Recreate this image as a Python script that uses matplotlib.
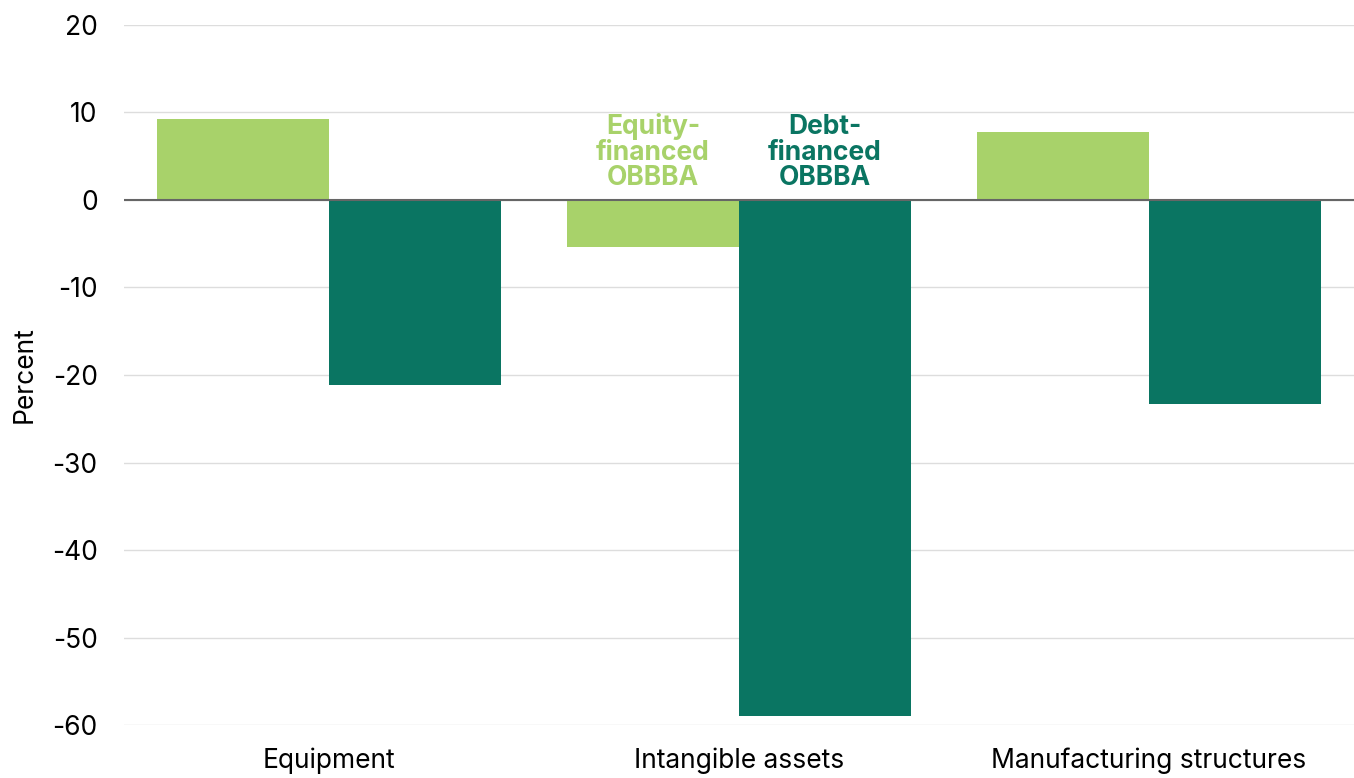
import numpy as np
import matplotlib.pyplot as plt

categories = ["Equipment", "Intangible assets", "Manufacturing structures"]
equity_financed = [9.2, -5.4, 7.8]
debt_financed = [-21.2, -59.0, -23.3]
series_labels = ["Equity-\nfinanced\nOBBBA", "Debt-\nfinanced\nOBBBA"]

LIGHT = "#a8d26a"
DARK = "#0a7562"

plt.rcParams["font.family"] = ["Inter", "DejaVu Sans"]
plt.rcParams["axes.unicode_minus"] = False

fig = plt.figure(figsize=(13.54, 7.78), dpi=100)
ax = fig.add_axes([0.0916, 0.068, 0.9084, 0.9])

x = np.arange(len(categories))
w = 0.42
ax.bar(x - w / 2, equity_financed, w, color=LIGHT, zorder=3)
ax.bar(x + w / 2, debt_financed, w, color=DARK, zorder=3)

# series labels sit above the middle group's bars
ax.text(x[1] - w / 2, 1.0, series_labels[0], ha="center", va="bottom",
        color=LIGHT, fontsize=19, fontweight="bold", linespacing=0.97)
ax.text(x[1] + w / 2, 1.0, series_labels[1], ha="center", va="bottom",
        color=DARK, fontsize=19, fontweight="bold", linespacing=0.97)

ax.set_xlim(-0.5, 2.5)
ax.set_ylim(-60, 20)
ax.set_yticks(range(-60, 21, 10))
ax.yaxis.grid(True, color="#dddddd", linewidth=1, zorder=0)
ax.axhline(0, color="#666666", linewidth=1.5, zorder=4)

ax.set_xticks(x)
ax.set_xticklabels(categories, fontsize=19)
ax.tick_params(axis="y", labelsize=19, length=0, pad=19)
ax.tick_params(axis="x", length=0, pad=16)
ax.set_ylabel("Percent", fontsize=19, labelpad=10)
for s in ax.spines.values():
    s.set_visible(False)

fig.savefig("out.png", dpi=100)
